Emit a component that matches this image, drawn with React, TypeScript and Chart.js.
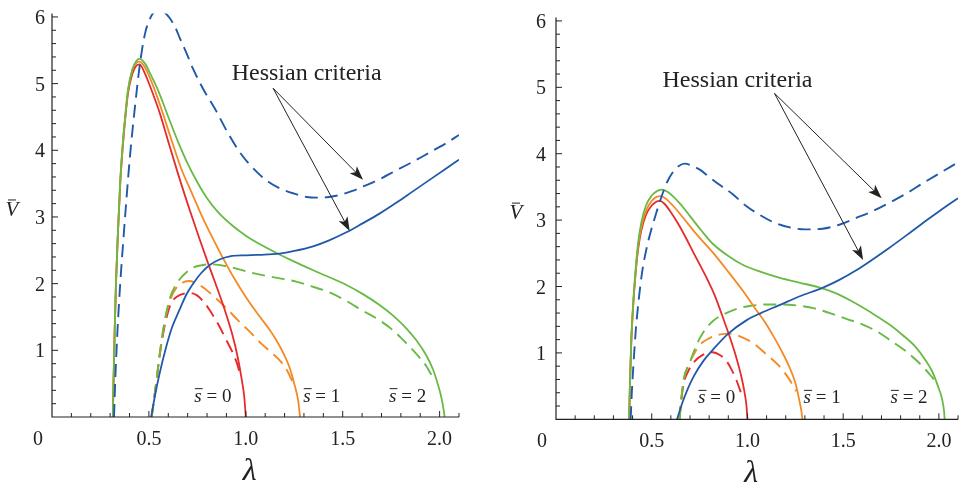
import React, { useEffect, useRef } from 'react';
import { Chart, registerables } from 'chart.js';

Chart.register(...registerables);

type Pt = [number, number];

// ---------- axis ticks ----------
const LAMBDA_TICKS = [0.5, 1.0, 1.5, 2.0];
const V_TICKS = [1, 2, 3, 4, 5, 6];
const S_VALUES = ['0', '1', '2'];
const HESSIAN_TEXT = 'Hessian criteria';

// ---------- left panel data (lambda, V) ----------
const L_RED_SOLID: Pt[] = [[0.314,0],[0.318,0.6],[0.323,1.25],[0.33,2.0],[0.34,2.75],[0.352,3.5],[0.37,4.22],[0.392,4.85],[0.415,5.15],[0.435,5.27],[0.452,5.29],[0.475,5.18],[0.51,4.93],[0.557,4.55],[0.6,4.13],[0.65,3.65],[0.711,3.1],[0.76,2.68],[0.806,2.3],[0.85,1.95],[0.892,1.6],[0.93,1.24],[0.958,0.9],[0.978,0.58],[0.992,0.3],[1.0,0]];
const L_ORANGE_SOLID: Pt[] = [[0.314,0],[0.318,0.6],[0.323,1.25],[0.33,2.0],[0.34,2.75],[0.352,3.5],[0.37,4.25],[0.392,4.9],[0.415,5.2],[0.435,5.31],[0.453,5.33],[0.48,5.24],[0.52,4.98],[0.57,4.57],[0.617,4.15],[0.67,3.7],[0.72,3.37],[0.763,3.08],[0.8,2.85],[0.84,2.62],[0.883,2.38],[0.94,2.08],[1.0,1.8],[1.063,1.54],[1.12,1.32],[1.16,1.14],[1.195,0.95],[1.225,0.75],[1.25,0.5],[1.27,0.25],[1.28,0]];
const L_GREEN_SOLID: Pt[] = [[0.314,0],[0.318,0.6],[0.323,1.25],[0.33,2.0],[0.34,2.75],[0.352,3.55],[0.366,4.15],[0.378,4.5],[0.392,4.9],[0.415,5.22],[0.435,5.34],[0.452,5.37],[0.48,5.3],[0.51,5.13],[0.55,4.88],[0.6,4.5],[0.65,4.13],[0.7,3.8],[0.75,3.52],[0.8,3.28],[0.86,3.06],[0.935,2.86],[1.0,2.72],[1.055,2.62],[1.158,2.46],[1.25,2.33],[1.38,2.16],[1.519,1.98],[1.6,1.85],[1.69,1.68],[1.76,1.52],[1.828,1.33],[1.88,1.15],[1.93,0.93],[1.965,0.72],[1.99,0.5],[2.01,0.28],[2.02,0.12],[2.026,0]];
const L_BLUE_DASHED: Pt[] = [[0.32,0],[0.327,0.6],[0.338,1.3],[0.352,2.0],[0.368,2.65],[0.381,3.15],[0.402,3.9],[0.428,4.65],[0.454,5.3],[0.48,5.75],[0.51,6.0],[0.535,6.09],[0.553,6.1],[0.58,6.07],[0.608,5.98],[0.635,5.85],[0.66,5.68],[0.695,5.45],[0.728,5.22],[0.78,4.92],[0.849,4.58],[0.9,4.3],[0.969,3.97],[1.055,3.68],[1.12,3.52],[1.175,3.43],[1.25,3.35],[1.313,3.3],[1.37,3.29],[1.43,3.3],[1.485,3.33],[1.55,3.39],[1.6,3.45],[1.7,3.58],[1.777,3.7],[1.87,3.84],[1.95,3.97],[2.03,4.1],[2.1,4.23]];
const L_BLUE_SOLID: Pt[] = [[0.512,0],[0.53,0.3],[0.555,0.65],[0.589,1.05],[0.62,1.35],[0.66,1.62],[0.692,1.83],[0.728,2.0],[0.77,2.16],[0.814,2.28],[0.87,2.37],[0.918,2.41],[1.0,2.425],[1.055,2.43],[1.12,2.44],[1.175,2.45],[1.25,2.49],[1.347,2.56],[1.43,2.65],[1.519,2.77],[1.6,2.9],[1.69,3.05],[1.78,3.22],[1.86,3.38],[1.95,3.56],[2.03,3.72],[2.1,3.86]];
const L_RED_DASHED: Pt[] = [[0.514,0],[0.535,0.45],[0.557,0.95],[0.58,1.35],[0.608,1.66],[0.63,1.77],[0.66,1.83],[0.71,1.86],[0.75,1.82],[0.79,1.7],[0.814,1.6],[0.86,1.38],[0.9,1.15],[0.93,0.98],[0.955,0.8],[0.972,0.62]];
const L_ORANGE_DASHED: Pt[] = [[0.514,0],[0.535,0.45],[0.557,0.97],[0.58,1.4],[0.608,1.74],[0.64,1.93],[0.67,2.01],[0.705,2.04],[0.75,2.0],[0.795,1.91],[0.85,1.77],[0.9,1.63],[0.96,1.45],[1.02,1.28],[1.08,1.1],[1.13,0.97],[1.184,0.82],[1.22,0.66],[1.245,0.5]];
const L_GREEN_DASHED: Pt[] = [[0.514,0],[0.535,0.45],[0.557,0.97],[0.58,1.42],[0.608,1.78],[0.65,2.03],[0.69,2.16],[0.737,2.25],[0.78,2.28],[0.814,2.29],[0.918,2.25],[1.02,2.17],[1.1,2.12],[1.175,2.08],[1.26,2.03],[1.34,1.96],[1.43,1.87],[1.519,1.74],[1.6,1.6],[1.69,1.45],[1.76,1.3],[1.81,1.16],[1.86,1.01],[1.897,0.89],[1.93,0.77],[1.96,0.62]];

// ---------- right panel data (lambda, V) ----------
const R_RED_SOLID: Pt[] = [[0.382,0],[0.386,0.5],[0.393,1.15],[0.403,1.7],[0.416,2.2],[0.43,2.58],[0.446,2.85],[0.47,3.08],[0.5,3.22],[0.52,3.27],[0.542,3.29],[0.565,3.25],[0.6,3.12],[0.635,2.96],[0.67,2.78],[0.72,2.5],[0.785,2.14],[0.83,1.86],[0.871,1.54],[0.91,1.22],[0.941,0.94],[0.965,0.68],[0.984,0.42],[0.995,0.2],[1.0,0]];
const R_ORANGE_SOLID: Pt[] = [[0.382,0],[0.386,0.5],[0.393,1.15],[0.403,1.72],[0.416,2.23],[0.43,2.63],[0.446,2.9],[0.47,3.14],[0.5,3.29],[0.525,3.35],[0.548,3.36],[0.575,3.32],[0.61,3.22],[0.663,3.04],[0.73,2.8],[0.82,2.51],[0.9,2.22],[0.98,1.92],[1.04,1.67],[1.09,1.47],[1.14,1.23],[1.18,1.02],[1.22,0.78],[1.25,0.55],[1.27,0.3],[1.282,0.12],[1.287,0]];
const R_GREEN_SOLID: Pt[] = [[0.382,0],[0.386,0.5],[0.393,1.2],[0.403,1.75],[0.416,2.27],[0.43,2.68],[0.446,2.97],[0.47,3.22],[0.5,3.37],[0.53,3.44],[0.555,3.46],[0.58,3.43],[0.61,3.36],[0.65,3.24],[0.7,3.06],[0.76,2.84],[0.82,2.64],[0.9,2.46],[0.98,2.32],[1.07,2.22],[1.17,2.13],[1.27,2.06],[1.37,1.99],[1.46,1.9],[1.55,1.77],[1.65,1.6],[1.74,1.43],[1.81,1.27],[1.878,1.09],[1.93,0.89],[1.965,0.72],[1.995,0.5],[2.017,0.3],[2.027,0.12],[2.03,0]];
const R_BLUE_DASHED: Pt[] = [[0.39,0],[0.396,0.4],[0.404,0.8],[0.417,1.35],[0.432,1.8],[0.45,2.22],[0.475,2.6],[0.5,2.88],[0.525,3.12],[0.552,3.36],[0.58,3.57],[0.61,3.72],[0.64,3.81],[0.672,3.85],[0.71,3.82],[0.751,3.76],[0.8,3.65],[0.86,3.52],[0.923,3.39],[0.99,3.22],[1.063,3.08],[1.15,2.95],[1.236,2.88],[1.3,2.86],[1.392,2.87],[1.48,2.93],[1.566,3.03],[1.65,3.13],[1.74,3.26],[1.83,3.4],[1.913,3.55],[2.0,3.7],[2.1,3.87]];
const R_BLUE_SOLID: Pt[] = [[0.632,0],[0.66,0.25],[0.69,0.47],[0.72,0.65],[0.77,0.88],[0.82,1.05],[0.9,1.29],[0.994,1.49],[1.07,1.6],[1.167,1.72],[1.27,1.85],[1.392,1.98],[1.48,2.1],[1.566,2.24],[1.65,2.4],[1.74,2.58],[1.83,2.77],[1.913,2.95],[2.0,3.13],[2.1,3.33]];
const R_RED_DASHED: Pt[] = [[0.645,0],[0.655,0.3],[0.668,0.55],[0.69,0.72],[0.72,0.86],[0.76,0.96],[0.815,1.01],[0.86,0.96],[0.89,0.88],[0.915,0.76],[0.941,0.6],[0.96,0.45],[0.975,0.32]];
const R_ORANGE_DASHED: Pt[] = [[0.645,0],[0.655,0.32],[0.668,0.6],[0.69,0.8],[0.72,0.98],[0.751,1.12],[0.8,1.22],[0.86,1.28],[0.91,1.29],[0.96,1.25],[1.028,1.15],[1.098,0.98],[1.16,0.82],[1.2,0.68],[1.236,0.52],[1.255,0.42]];
const R_GREEN_DASHED: Pt[] = [[0.645,0],[0.655,0.32],[0.668,0.62],[0.698,0.85],[0.734,1.12],[0.767,1.3],[0.82,1.48],[0.889,1.6],[0.95,1.67],[1.02,1.71],[1.1,1.73],[1.184,1.73],[1.27,1.71],[1.35,1.67],[1.43,1.6],[1.52,1.51],[1.6,1.43],[1.69,1.3],[1.74,1.2],[1.83,1.02],[1.878,0.9],[1.93,0.75],[1.965,0.63],[1.99,0.54]];

// ---------- styling ----------
const COLORS = { red: '#e62b2b', orange: '#f48a26', green: '#68ba45', blue: '#2159a9' };
const INK = '#222';
const SERIF = '"Liberation Serif"';

type SeriesSpec = { data: Pt[]; color: string; dashed: boolean };

const LEFT_SERIES: SeriesSpec[] = [
  { data: L_BLUE_DASHED, color: COLORS.blue, dashed: true },
  { data: L_BLUE_SOLID, color: COLORS.blue, dashed: false },
  { data: L_GREEN_SOLID, color: COLORS.green, dashed: false },
  { data: L_ORANGE_SOLID, color: COLORS.orange, dashed: false },
  { data: L_RED_SOLID, color: COLORS.red, dashed: false },
  { data: L_GREEN_DASHED, color: COLORS.green, dashed: true },
  { data: L_ORANGE_DASHED, color: COLORS.orange, dashed: true },
  { data: L_RED_DASHED, color: COLORS.red, dashed: true },
];
const RIGHT_SERIES: SeriesSpec[] = [
  { data: R_BLUE_DASHED, color: COLORS.blue, dashed: true },
  { data: R_BLUE_SOLID, color: COLORS.blue, dashed: false },
  { data: R_GREEN_SOLID, color: COLORS.green, dashed: false },
  { data: R_ORANGE_SOLID, color: COLORS.orange, dashed: false },
  { data: R_RED_SOLID, color: COLORS.red, dashed: false },
  { data: R_GREEN_DASHED, color: COLORS.green, dashed: true },
  { data: R_ORANGE_DASHED, color: COLORS.orange, dashed: true },
  { data: R_RED_DASHED, color: COLORS.red, dashed: true },
];

type PanelSpec = {
  offsetX: number; width: number; height: number;
  plotLeft: number; plotRight: number; plotTop: number; plotBottom: number;
  yLabelGap: number;
  series: SeriesSpec[];
  textPos: { x: number; y: number };
  arrowFrom: { x: number; y: number };
  arrowTo: { x: number; y: number }[];
  sLabelX: number[]; sLabelY: number;
  lambdaX: number;
};

const PANELS: PanelSpec[] = [
  {
    offsetX: 0, width: 480, height: 487,
    plotLeft: 52, plotRight: 459, plotTop: 13.6, plotBottom: 417, yLabelGap: 7,
    series: LEFT_SERIES,
    textPos: { x: 1.314, y: 5.055 },
    arrowFrom: { x: 1.141, y: 4.93 },
    arrowTo: [{ x: 1.605, y: 3.56 }, { x: 1.536, y: 2.79 }],
    sLabelX: [0.83, 1.392, 1.835], sLabelY: 0.23,
    lambdaX: 1.02,
  },
  {
    offsetX: 480, width: 479, height: 487,
    plotLeft: 76, plotRight: 479, plotTop: 17.6, plotBottom: 419.3, yLabelGap: 10,
    series: RIGHT_SERIES,
    textPos: { x: 0.948, y: 5.01 },
    arrowFrom: { x: 1.141, y: 4.91 },
    arrowTo: [{ x: 1.701, y: 3.33 }, { x: 1.604, y: 2.4 }],
    sLabelX: [0.839, 1.39, 1.844], sLabelY: 0.24,
    lambdaX: 1.019,
  },
];

function drawArrow(ctx: CanvasRenderingContext2D, x1: number, y1: number, x2: number, y2: number) {
  const a = Math.atan2(y2 - y1, x2 - x1);
  const L = 14, W = 5;
  ctx.beginPath();
  ctx.moveTo(x1, y1);
  ctx.lineTo(x2 - 9 * Math.cos(a), y2 - 9 * Math.sin(a));
  ctx.stroke();
  ctx.beginPath();
  ctx.moveTo(x2, y2);
  ctx.lineTo(x2 - L * Math.cos(a) + W * Math.sin(a), y2 - L * Math.sin(a) - W * Math.cos(a));
  ctx.lineTo(x2 - 0.75 * L * Math.cos(a), y2 - 0.75 * L * Math.sin(a));
  ctx.lineTo(x2 - L * Math.cos(a) - W * Math.sin(a), y2 - L * Math.sin(a) + W * Math.cos(a));
  ctx.closePath();
  ctx.fill();
}

function drawSLabel(ctx: CanvasRenderingContext2D, cx: number, baseY: number, digit: string) {
  const fI = `italic 19px ${SERIF}`;
  const fR = `19px ${SERIF}`;
  ctx.font = fI;
  const ws = ctx.measureText('s').width;
  const rest = ' = ' + digit;
  ctx.font = fR;
  const wr = ctx.measureText(rest).width;
  const x0 = cx - (ws + wr) / 2;
  ctx.textAlign = 'left';
  ctx.textBaseline = 'alphabetic';
  ctx.font = fI;
  ctx.fillText('s', x0, baseY);
  ctx.font = fR;
  ctx.fillText(rest, x0 + ws, baseY);
  ctx.beginPath();
  ctx.lineWidth = 1;
  ctx.moveTo(x0 + 0.5, baseY - 13);
  ctx.lineTo(x0 + ws + 1, baseY - 13);
  ctx.stroke();
}

function makeOverlay(p: PanelSpec) {
  return {
    id: 'overlay',
    afterDraw(chart: any) {
      const ctx: CanvasRenderingContext2D = chart.ctx;
      const xs = chart.scales.x;
      const ys = chart.scales.y;
      const { left, right, top, bottom } = chart.chartArea;
      ctx.save();
      ctx.strokeStyle = INK;
      ctx.fillStyle = INK;
      // axes
      ctx.lineWidth = 1.2;
      ctx.beginPath();
      ctx.moveTo(left, top);
      ctx.lineTo(left, bottom);
      ctx.lineTo(right, bottom);
      ctx.stroke();
      // tick marks (inward)
      ctx.lineWidth = 1;
      ctx.beginPath();
      for (let i = 1; i <= 21; i++) {
        const px = xs.getPixelForValue(i / 10);
        const len = i % 5 === 0 ? 6 : 4;
        ctx.moveTo(px, bottom);
        ctx.lineTo(px, bottom - len);
      }
      for (let i = 1; i <= 30; i++) {
        const py = ys.getPixelForValue(i * 0.2);
        const len = i % 5 === 0 ? 6 : 4;
        ctx.moveTo(left, py);
        ctx.lineTo(left + len, py);
      }
      ctx.stroke();
      // tick labels
      ctx.font = `20px ${SERIF}`;
      ctx.textAlign = 'center';
      ctx.textBaseline = 'alphabetic';
      LAMBDA_TICKS.forEach((v) => ctx.fillText(v.toFixed(1), xs.getPixelForValue(v), bottom + 28));
      ctx.textAlign = 'right';
      V_TICKS.forEach((v) => ctx.fillText(String(v), left - p.yLabelGap, ys.getPixelForValue(v) + 7));
      ctx.textAlign = 'center';
      ctx.fillText('0', left - 14, bottom + 28);
      // axis titles
      ctx.font = `italic 32px ${SERIF}`;
      ctx.fillText('\u03bb', xs.getPixelForValue(p.lambdaX), bottom + 63);
      const vx = left - 40;
      const vy = ys.getPixelForValue(3) - 1;
      ctx.font = `italic 21px ${SERIF}`;
      ctx.fillText('V', vx, vy);
      ctx.beginPath();
      ctx.lineWidth = 1;
      ctx.moveTo(vx - 4, vy - 16);
      ctx.lineTo(vx + 4, vy - 16);
      ctx.stroke();
      // annotation
      ctx.font = `24px ${SERIF}`;
      ctx.textAlign = 'center';
      ctx.fillText(HESSIAN_TEXT, xs.getPixelForValue(p.textPos.x), ys.getPixelForValue(p.textPos.y));
      ctx.lineWidth = 1;
      const fx = xs.getPixelForValue(p.arrowFrom.x);
      const fy = ys.getPixelForValue(p.arrowFrom.y);
      p.arrowTo.forEach((t) => drawArrow(ctx, fx, fy, xs.getPixelForValue(t.x), ys.getPixelForValue(t.y)));
      // s labels
      S_VALUES.forEach((s, i) => drawSLabel(ctx, xs.getPixelForValue(p.sLabelX[i]), ys.getPixelForValue(p.sLabelY), s));
      ctx.restore();
    },
  };
}

function Panel({ spec }: { spec: PanelSpec }) {
  const ref = useRef<HTMLCanvasElement>(null);
  useEffect(() => {
    if (!ref.current) return;
    const datasets = spec.series.map((s) => ({
      data: s.data.map(([x, y]) => ({ x, y })),
      showLine: true,
      borderColor: s.color,
      backgroundColor: s.color,
      borderWidth: s.dashed ? 1.9 : 1.8,
      borderDash: s.dashed ? [13, 7] : [],
      pointRadius: 0,
      pointHoverRadius: 0,
      fill: false,
      cubicInterpolationMode: 'monotone' as const,
    }));
    const chart = new Chart(ref.current, {
      type: 'scatter',
      data: { datasets },
      options: {
        animation: false,
        responsive: false,
        events: [],
        layout: {
          padding: { left: 0, top: spec.plotTop, right: spec.width - spec.plotRight, bottom: 0 },
        },
        plugins: { legend: { display: false }, tooltip: { enabled: false } },
        scales: {
          x: {
            type: 'linear', min: 0, max: 2.1,
            grid: { display: false }, border: { display: false }, ticks: { display: false },
            afterFit: (s: any) => { s.height = spec.height - spec.plotBottom; },
          },
          y: {
            type: 'linear', min: 0, max: 6.05,
            grid: { display: false }, border: { display: false }, ticks: { display: false },
            afterFit: (s: any) => { s.width = spec.plotLeft; },
          },
        },
      } as any,
      plugins: [makeOverlay(spec)],
    });
    let alive = true;
    const fonts = [`20px ${SERIF}`, `italic 20px ${SERIF}`];
    Promise.all(fonts.map((f) => (document as any).fonts.load(f, 'Hessian λ s=0')))
      .catch(() => null)
      .then(() => { if (alive) chart.update(); });
    return () => { alive = false; chart.destroy(); };
  }, [spec]);
  return (
    <canvas
      ref={ref}
      width={spec.width}
      height={spec.height}
      style={{ position: 'absolute', left: spec.offsetX, top: 0, width: spec.width, height: spec.height }}
    />
  );
}

export default function App() {
  return (
    <div style={{ position: 'absolute', left: 0, top: 0, width: 959, height: 487, background: '#fff', overflow: 'hidden' }}>
      <span style={{ position: 'absolute', left: -9999, fontFamily: 'Liberation Serif' }}>
        Hessian <i>λ s</i>
      </span>
      {PANELS.map((p, i) => (
        <Panel key={i} spec={p} />
      ))}
    </div>
  );
}
